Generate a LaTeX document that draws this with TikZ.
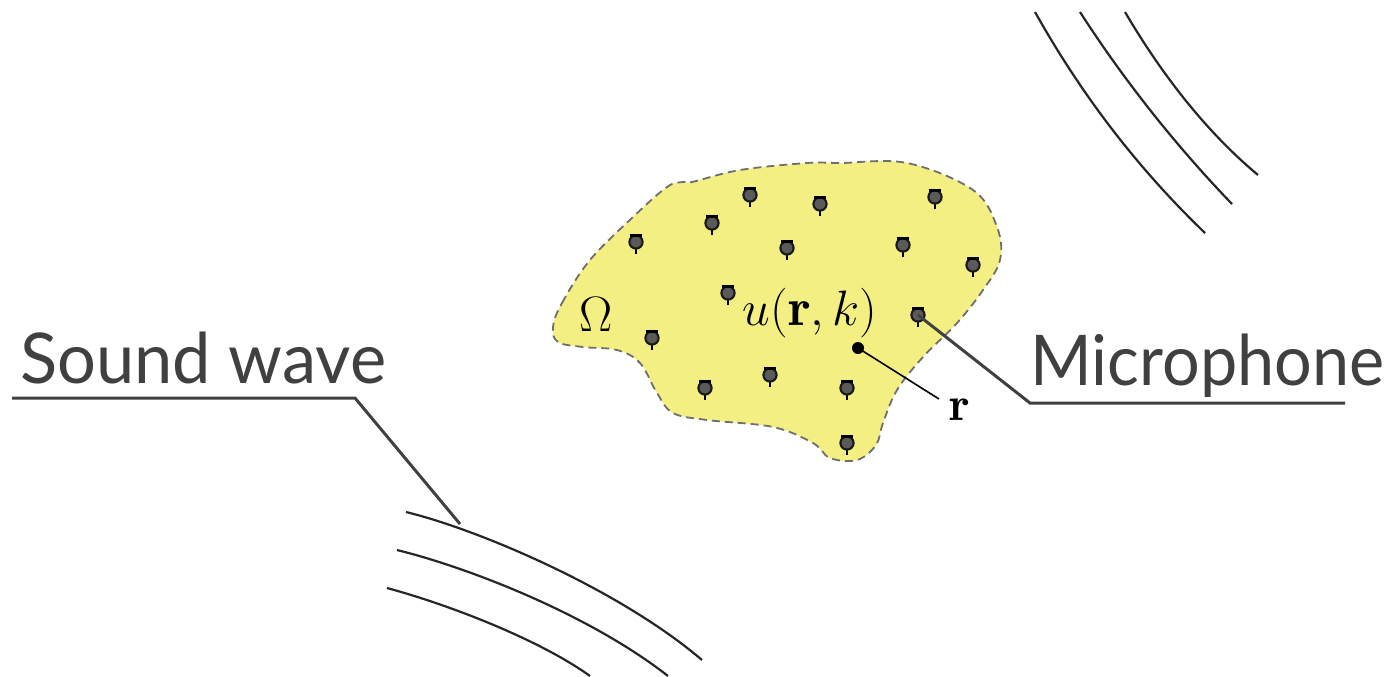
\documentclass[tikz,border=0pt]{standalone}
\usepackage{fontspec}
\newfontfamily\labelfont[FakeStretch=0.95]{Lato}
\newfontfamily\labelfontb[FakeStretch=0.98]{Lato}
\usepackage{amsmath}
\definecolor{blobfill}{HTML}{F4EF82}
\definecolor{blobedge}{HTML}{6E6E6E}
\definecolor{leader}{HTML}{404040}
\definecolor{micgray}{HTML}{5A5A5A}
\tikzset{
  wave/.style={line width=1.1pt, black!85},
  leaderline/.style={line width=1.5pt, leader},
  labeltext/.style={text=leader, inner sep=0pt, anchor=base west},
  mic/.pic={
    \draw[line width=1pt, draw=black] (0,0) -- (0,12);
    \draw[fill=micgray, line width=1.05pt, draw=black!90] (0,0) circle (6.6);
    \draw[line width=1.3pt, draw=black] (-6,-6.3) -- (6,-6.3);
  }
}
\begin{document}
\begin{tikzpicture}[x=0.5pt,y=-0.5pt]
\useasboundingbox (0,0) rectangle (1387,676);
% region
\draw[fill=blobfill, draw=blobedge, line width=0.9pt, dash pattern=on 4pt off 2.5pt]
  plot[smooth cycle, tension=0.6] coordinates {
  (553,327) (562,303) (590,260) (633,217) (667,187) (683,182) (692,182)
  (740,170) (807,163) (840,163) (907,163) (973,190) (997,227) (1000,260)
  (983,290) (957,323) (923,357) (897,390) (883,423) (876,445) (857,460)
  (830,458) (813,443) (773,427) (707,420) (673,413) (657,393) (640,363)
  (617,350) (583,347) (558,342)};
% microphones
\foreach \p [count=\i] in {(750,195),(820,204),(935,197),(712,223),(636,242),(787,248),(903,245),(973,265),(728,293),(918,315),(652,338),(770,375),(705,388),(847,388),(847,443)}
  \pic (m\i) at \p {mic};
\coordinate (micpt) at (918,315);
% texts
\node (omega) at (596,314) {\fontsize{26}{30}\selectfont$\Omega$};
\node (field) at (810,313) {\fontsize{26.5}{30}\selectfont$u(\mathbf{r},k)$};
\node (rlab) at (960,410) {\fontsize{24}{28}\selectfont$\mathbf{r}$};
\node[circle, fill=black, inner sep=0pt, minimum size=6pt] (rdot) at (858,348) {};
\coordinate (rend) at (939,399);
\draw[line width=0.8pt, black] (rdot.center) -- (rend);
% waves top right
\draw[wave] (1035,12) .. controls (1090,110) and (1150,180) .. (1205,233);
\draw[wave] (1080,12) .. controls (1127,85) and (1180,150) .. (1232,204);
\draw[wave] (1125,12) .. controls (1165,80) and (1210,135) .. (1258,175);
% waves bottom left
\draw[wave] (406,512) .. controls (480,530) and (620,590) .. (702,660);
\draw[wave] (397,550) .. controls (470,568) and (590,615) .. (668,676);
\draw[wave] (387,588) .. controls (450,605) and (540,640) .. (590,676);
% labels
\node[labeltext, font=\labelfontb\fontsize{35}{40}\selectfont] (sw) at (20,383) {Sound wave};
\node[labeltext, font=\labelfont\fontsize{35}{40}\selectfont] (mc) at (1030,385) {Microphone};
\coordinate (swa) at (12,398);
\coordinate (swb) at (355,398);
\coordinate (swc) at (460,524);
\draw[leaderline] (swa) -- (swb) -- (swc);
\coordinate (mcb) at (1030,403);
\coordinate (mcc) at (1345,403);
\draw[leaderline] (micpt) -- (mcb) -- (mcc);
\end{tikzpicture}
\end{document}
